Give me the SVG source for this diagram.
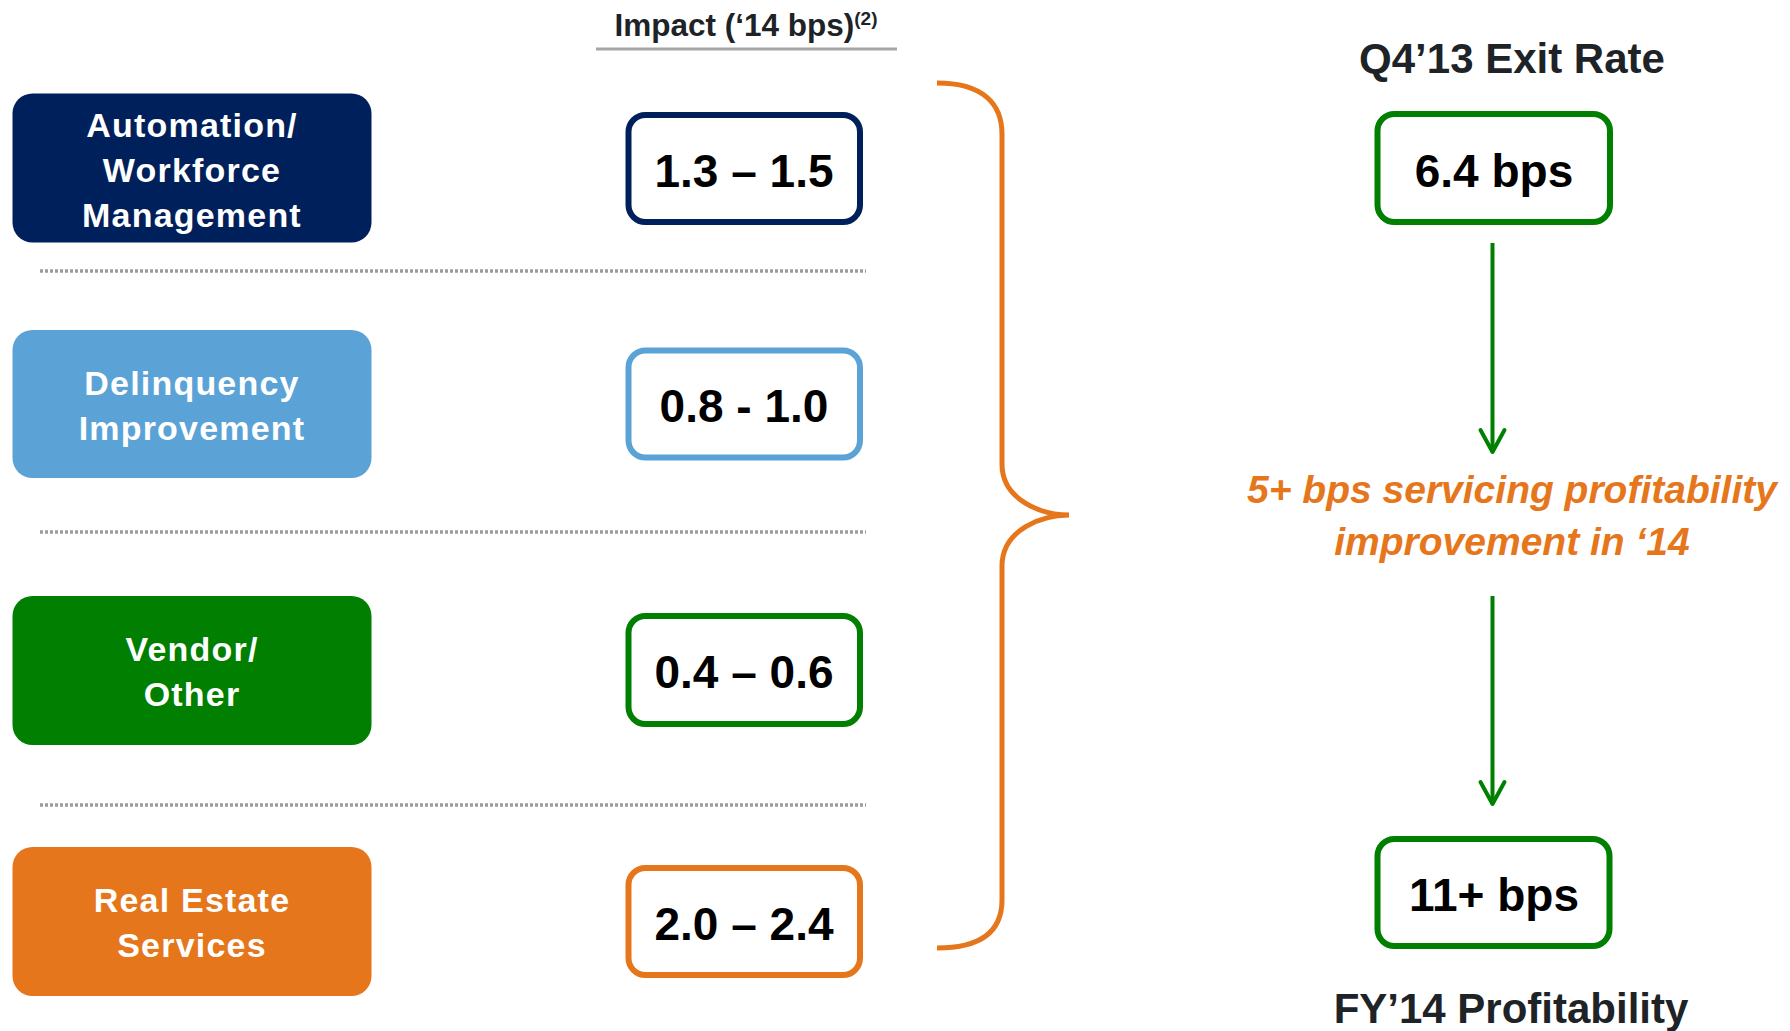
<svg xmlns="http://www.w3.org/2000/svg" width="1790" height="1031" viewBox="0 0 1790 1031">
  <defs>
    <style>
      .lbl { font-family: "Liberation Sans", Arial, sans-serif; font-weight: bold; font-size: 34px; fill: #ffffff; text-anchor: middle; letter-spacing: 1.2px; }
      .val { font-family: "Liberation Sans", Arial, sans-serif; font-weight: bold; font-size: 46px; fill: #000000; text-anchor: middle; }
      .head { font-family: "Liberation Sans", Arial, sans-serif; font-weight: bold; fill: #1d2327; text-anchor: middle; }
      .vbox { fill: #ffffff; stroke-width: 6; }
      .sep { stroke: #9c9c9c; stroke-width: 3.5; stroke-dasharray: 3 2; fill: none; }
      .flow { stroke: #008000; stroke-width: 4; fill: none; }
    </style>
    <marker id="chev" markerUnits="userSpaceOnUse" markerWidth="30" markerHeight="30" refX="0" refY="0" orient="auto" overflow="visible">
      <path d="M -22 -12 L 0 0 L -22 12" fill="none" stroke="#008000" stroke-width="4" stroke-linecap="round" stroke-linejoin="round"/>
    </marker>
  </defs>

  <rect width="1790" height="1031" fill="#ffffff"/>

  <!-- column header -->
  <g id="impact-header">
    <text class="head" x="746" y="36" font-size="31.5">Impact (‘14 bps)<tspan font-size="19" dy="-11">(2)</tspan></text>
    <line x1="596" y1="49" x2="897" y2="49" stroke="#a6a6a6" stroke-width="3"/>
  </g>

  <!-- row separators -->
  <g id="separators">
    <line class="sep" x1="40" y1="271" x2="866" y2="271"/>
    <line class="sep" x1="40" y1="532" x2="866" y2="532"/>
    <line class="sep" x1="40" y1="805" x2="866" y2="805"/>
  </g>

  <!-- category boxes -->
  <g id="automation">
    <rect x="12.5" y="93.5" width="359" height="149" rx="20" fill="#00205b"/>
    <text class="lbl" x="192" y="137">Automation/</text>
    <text class="lbl" x="192" y="182">Workforce</text>
    <text class="lbl" x="192" y="227">Management</text>
  </g>
  <g id="delinquency">
    <rect x="12.5" y="330" width="359" height="148" rx="20" fill="#5ba3d6"/>
    <text class="lbl" x="192" y="395">Delinquency</text>
    <text class="lbl" x="192" y="440">Improvement</text>
  </g>
  <g id="vendor">
    <rect x="12.5" y="596" width="359" height="149" rx="20" fill="#007f00"/>
    <text class="lbl" x="192" y="661">Vendor/</text>
    <text class="lbl" x="192" y="706">Other</text>
  </g>
  <g id="real-estate">
    <rect x="12.5" y="847" width="359" height="149" rx="20" fill="#e6761c"/>
    <text class="lbl" x="192" y="912">Real Estate</text>
    <text class="lbl" x="192" y="957">Services</text>
  </g>

  <!-- impact ranges -->
  <g id="impact-automation">
    <rect class="vbox" x="628.5" y="115" width="231.5" height="107" rx="17" stroke="#00205b"/>
    <text class="val" x="744" y="187">1.3 – 1.5</text>
  </g>
  <g id="impact-delinquency">
    <rect class="vbox" x="628.5" y="350.5" width="231.5" height="107" rx="17" stroke="#5ba3d6"/>
    <text class="val" x="744" y="422">0.8 - 1.0</text>
  </g>
  <g id="impact-vendor">
    <rect class="vbox" x="628.5" y="616" width="231.5" height="108" rx="17" stroke="#007f00"/>
    <text class="val" x="744" y="688">0.4 – 0.6</text>
  </g>
  <g id="impact-real-estate">
    <rect class="vbox" x="628.5" y="868" width="231.5" height="107" rx="17" stroke="#e6761c"/>
    <text class="val" x="744" y="940">2.0 – 2.4</text>
  </g>

  <!-- right column -->
  <g id="exit-rate">
    <text class="head" x="1512" y="73" font-size="42">Q4’13 Exit Rate</text>
    <rect class="vbox" x="1377.5" y="114" width="232.5" height="108" rx="17" stroke="#007f00"/>
    <text class="val" x="1494" y="187">6.4 bps</text>
  </g>
  <g id="improvement">
    <text x="1512" y="503" font-family="Liberation Sans, Arial, sans-serif" font-weight="bold" font-style="italic" font-size="39" fill="#e6761c" text-anchor="middle">5+ bps servicing profitability</text>
    <text x="1512" y="555" font-family="Liberation Sans, Arial, sans-serif" font-weight="bold" font-style="italic" font-size="39" fill="#e6761c" text-anchor="middle">improvement in ‘14</text>
  </g>
  <g id="fy14">
    <rect class="vbox" x="1377.5" y="839" width="232" height="107" rx="17" stroke="#007f00"/>
    <text class="val" x="1494" y="911">11+ bps</text>
    <text class="head" x="1511" y="1023" font-size="42">FY’14 Profitability</text>
  </g>

  <!-- connectors -->
  <g id="connectors">
    <path d="M 937 83 C 982 83, 1002 103, 1002 134 L 1002 464 C 1002 501, 1043 515, 1069 515 C 1043 515, 1002 529, 1002 566 L 1002 900 C 1002 931, 982 948, 937 948" fill="none" stroke="#e6761c" stroke-width="5"/>
    <line class="flow" x1="1492.5" y1="243" x2="1492.5" y2="452" marker-end="url(#chev)"/>
    <line class="flow" x1="1492.5" y1="596" x2="1492.5" y2="804" marker-end="url(#chev)"/>
  </g>
</svg>
